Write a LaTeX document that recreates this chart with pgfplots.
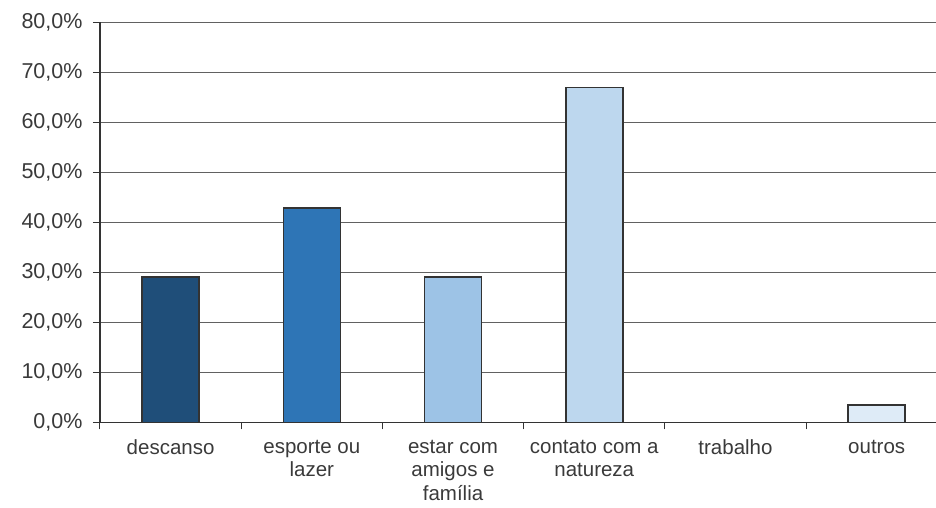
\documentclass[border=0pt]{standalone}
\usepackage{pgfplots}
\pgfplotsset{compat=1.18}
\usepackage{fontspec}
\setmainfont{Liberation Sans}
\definecolor{txt}{HTML}{3A3A3A}
\definecolor{cA}{HTML}{1F4E79}
\definecolor{cB}{HTML}{2E75B6}
\definecolor{cC}{HTML}{9DC3E6}
\definecolor{cD}{HTML}{BDD7EE}
\definecolor{cF}{HTML}{DEEBF7}
\definecolor{edge}{HTML}{333333}
\begin{document}
\begin{tikzpicture}
\begin{axis}[
  scale only axis,
  width=836pt, height=400.3pt,
  xmin=-0.5, xmax=5.42,
  ymin=0, ymax=80,
  axis x line*=bottom, axis y line*=left,
  axis line style={edge, line width=1.1pt},
  xtick={0,1,2,3,4,5},
  xticklabels={descanso, esporte ou\\lazer, estar com\\amigos e\\família, contato com a\\natureza, trabalho, outros},
  minor xtick={-0.5,0.5,1.5,2.5,3.5,4.5},
  major x tick style={draw=none},
  minor tick length=7pt,
  ytick={0,10,20,30,40,50,60,70,80},
  yticklabels={{0,0\%},{10,0\%},{20,0\%},{30,0\%},{40,0\%},{50,0\%},{60,0\%},{70,0\%},{80,0\%}},
  major tick length=7pt,
  tick align=outside,
  tick style={edge, line width=1pt},
  ymajorgrids,
  grid style={black!62, line width=1pt},
  xticklabel style={font=\fontsize{20.5}{23.5}\selectfont, text=txt, align=center, yshift=-7pt},
  yticklabel style={font=\fontsize{21.5}{24}\selectfont, text=txt, xshift=-7pt},
  ybar, bar width=57pt,
  clip=false,
]
\addplot[bar shift=0pt, draw=edge, line width=1.6pt, fill=cA] coordinates {(0,29.0)};
\addplot[bar shift=0pt, draw=edge, line width=1.6pt, fill=cB] coordinates {(1,42.8)};
\addplot[bar shift=0pt, draw=edge, line width=1.6pt, fill=cC] coordinates {(2,29.0)};
\addplot[bar shift=0pt, draw=edge, line width=1.6pt, fill=cD] coordinates {(3,66.9)};
\addplot[bar shift=0pt, draw=none, fill=none] coordinates {(4,0)};
\addplot[bar shift=0pt, draw=edge, line width=1.6pt, fill=cF] coordinates {(5,3.4)};
\end{axis}
\pgfresetboundingbox
\useasboundingbox (-100pt,-84.7pt) rectangle (836pt,422.3pt);
\end{tikzpicture}
\end{document}
